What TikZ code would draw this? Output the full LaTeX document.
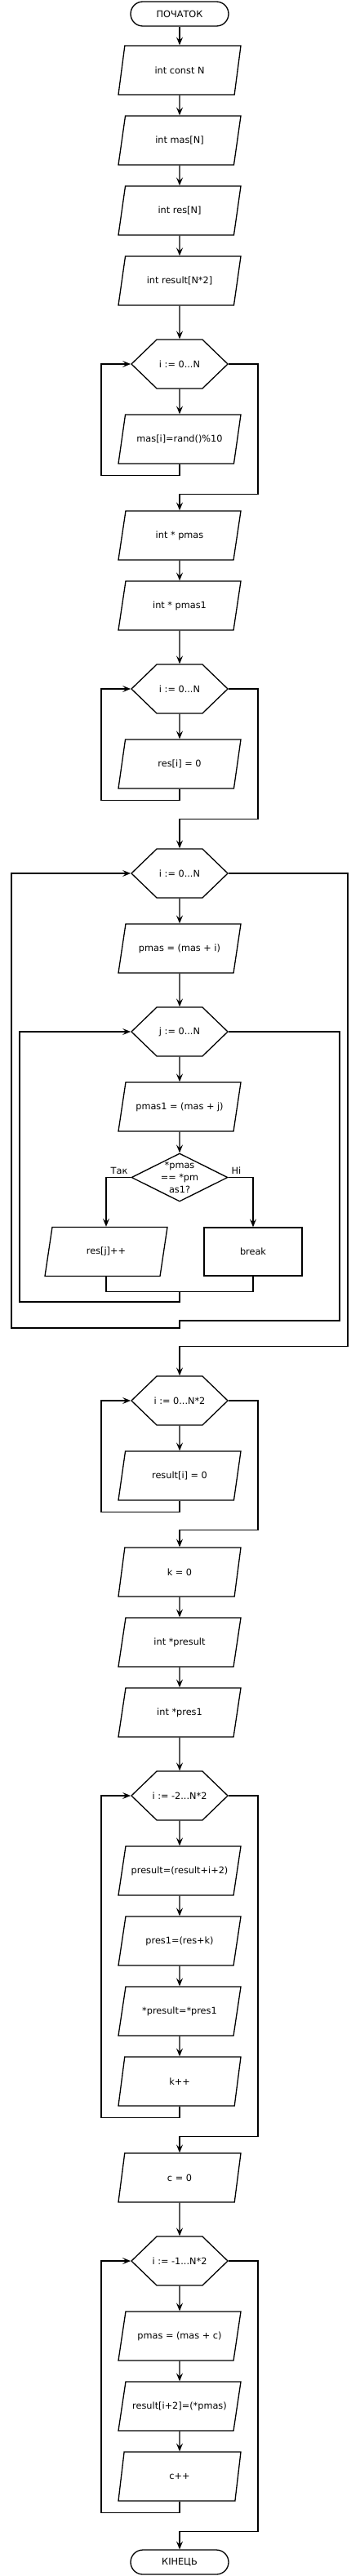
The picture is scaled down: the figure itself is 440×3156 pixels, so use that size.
\documentclass[tikz,border=0pt]{standalone}
\usepackage{fontspec}
\setmainfont{DejaVu Sans}
\usepackage{tikz}
\usetikzlibrary{shapes.geometric}
\usetikzlibrary{shapes.symbols}
\usetikzlibrary{arrows.meta}
\usetikzlibrary{calc}

\begin{document}
\begin{tikzpicture}[x=1pt,y=-1pt,line width=1.3pt,
        font=\fontsize{11.3}{15}\selectfont,
        termbox/.style={draw,rectangle,rounded corners=15pt,
            minimum width=120pt,minimum height=30pt},
        iobox/.style={draw,trapezium,trapezium left angle=63,
            trapezium right angle=117,trapezium stretches body,
            minimum width=150pt,minimum height=60pt,inner xsep=-15pt},
        loopbox/.style={draw,signal,signal to=east and west,
            signal pointer angle=88,minimum width=118pt,minimum height=60pt,
            inner ysep=0pt,inner xsep=-25pt},
        condbox/.style={draw,diamond,minimum width=118pt,minimum height=59pt,
            inner sep=0pt},
        procbox/.style={draw,rectangle,minimum width=120pt,minimum height=59pt},
        arr/.style={-{Stealth[length=10pt,width=8pt,inset=4pt]}}]
        \useasboundingbox (0,0) rectangle (440,3156);
        \draw node [termbox] (N01) at (220,17) {ПОЧАТОК};
        \draw node [iobox] (N02) at (220,86) {int const N};
        \draw node [iobox] (N03) at (220,172) {int mas[N]};
        \draw node [iobox] (N04) at (220,258) {int res[N]};
        \draw node [iobox] (N05) at (220,344) {int result[N*2]};
        \draw node [loopbox] (N06) at (220,446) {i := 0...N};
        \draw node [iobox] (N07) at (220,538) {mas[i]=rand()\%10};
        \draw node [iobox] (N08) at (220,656) {int * pmas};
        \draw node [iobox] (N09) at (220,742) {int * pmas1};
        \draw node [loopbox] (N10) at (220,844) {i := 0...N};
        \draw node [iobox] (N11) at (220,936) {res[i] = 0};
        \draw node [loopbox] (N12) at (220,1070) {i := 0...N};
        \draw node [iobox] (N13) at (220,1162) {pmas = (mas + i)};
        \draw node [loopbox] (N14) at (220,1264) {j := 0...N};
        \draw node [iobox] (N15) at (220,1356) {pmas1 = (mas + j)};
        \draw node [condbox] (N16) at (220,1442.5) {};
        \begin{scope}
            \clip (150,1423) rectangle (290,1461);
            \draw node [align=center] (T16) at (N16) {*pmas\\== *pm\\as1?};
        \end{scope}
        \draw node [iobox] (N17) at (130,1533.5) {res[j]++};
        \draw node [procbox] (N18) at (310,1533.5) {break};
        \draw node [loopbox] (N19) at (220,1716) {i := 0...N*2};
        \draw node [iobox] (N20) at (220,1808) {result[i] = 0};
        \draw node [iobox] (N21) at (220,1926) {k = 0};
        \draw node [iobox] (N22) at (220,2012) {int *presult};
        \draw node [iobox] (N23) at (220,2098) {int *pres1};
        \draw node [loopbox] (N24) at (220,2200) {i := -2...N*2};
        \draw node [iobox] (N25) at (220,2292) {presult=(result+i+2)};
        \draw node [iobox] (N26) at (220,2378) {pres1=(res+k)};
        \draw node [iobox] (N27) at (220,2464) {*presult=*pres1};
        \draw node [iobox] (N28) at (220,2550) {k++};
        \draw node [iobox] (N29) at (220,2668) {c = 0};
        \draw node [loopbox] (N30) at (220,2770) {i := -1...N*2};
        \draw node [iobox] (N31) at (220,2862) {pmas = (mas + c)};
        \draw node [iobox] (N32) at (220,2948) {result[i+2]=(*pmas)};
        \draw node [iobox] (N33) at (220,3034) {c++};
        \draw node [termbox] (N34) at (220,3139) {КІНЕЦЬ};
        \draw [arr] (N01) -- (N02);
        \draw [arr] (N02) -- (N03);
        \draw [arr] (N03) -- (N04);
        \draw [arr] (N04) -- (N05);
        \draw [arr] (N05) -- (N06);
        \draw [arr] (N06) -- (N07);
        \draw [arr] (N07.270) -- ++(0,14) -| ([xshift=-36pt]N06.west)
            -- (N06.west);
        \draw [arr] (N06.east) -- ++(36,0) |- ([yshift=20pt]N08.90)
            -- (N08.90);
        \draw [arr] (N08) -- (N09);
        \draw [arr] (N09) -- (N10);
        \draw [arr] (N10) -- (N11);
        \draw [arr] (N11.270) -- ++(0,14) -| ([xshift=-36pt]N10.west)
            -- (N10.west);
        \draw [arr] (N10.east) -- ++(36,0) |- ([yshift=36pt]N12.90)
            -- (N12.90);
        \draw [arr] (N12) -- (N13);
        \draw [arr] (N13) -- (N14);
        \draw [arr] (N14) -- (N15);
        \draw [arr] (N15) -- (N16);
        \draw [arr] (N16.west) node [above left] (L01) {Так} -| (N17.90);
        \draw [arr] (N16.east) node [above right] (L02) {Ні} -| (N18.north);
        \draw (N17.270) |- ([yshift=-19pt]N18.south) -- (N18.south);
        \coordinate (M01) at ($(N17.270)!.5!(N18.south)+(0,19)$);
        \draw [arr] (M01) -- ++(0,12) -| ([xshift=-136pt]N14.west)
            -- (N14.west);
        \draw [arr] (N14.east) -- ++(136,0) |- ([yshift=-35pt]M01)
            -- ++(0,9) -| ([xshift=-146pt]N12.west) -- (N12.west);
        \draw [arr] (N12.east) -- ++(146,0) |- ([yshift=36pt]N19.90)
            -- (N19.90);
        \draw [arr] (N19) -- (N20);
        \draw [arr] (N20.270) -- ++(0,14) -| ([xshift=-36pt]N19.west)
            -- (N19.west);
        \draw [arr] (N19.east) -- ++(36,0) |- ([yshift=21pt]N21.90)
            -- (N21.90);
        \draw [arr] (N21) -- (N22);
        \draw [arr] (N22) -- (N23);
        \draw [arr] (N23) -- (N24);
        \draw [arr] (N24) -- (N25);
        \draw [arr] (N25) -- (N26);
        \draw [arr] (N26) -- (N27);
        \draw [arr] (N27) -- (N28);
        \draw [arr] (N28.270) -- ++(0,14) -| ([xshift=-36pt]N24.west)
            -- (N24.west);
        \draw [arr] (N24.east) -- ++(36,0) |- ([yshift=20pt]N29.90)
            -- (N29.90);
        \draw [arr] (N29) -- (N30);
        \draw [arr] (N30) -- (N31);
        \draw [arr] (N31) -- (N32);
        \draw [arr] (N32) -- (N33);
        \draw [arr] (N33.270) -- ++(0,14) -| ([xshift=-36pt]N30.west)
            -- (N30.west);
        \draw [arr] (N30.east) -- ++(36,0) |- ([yshift=22pt]N34.north)
            -- (N34.north);
    \end{tikzpicture}
\end{document}
